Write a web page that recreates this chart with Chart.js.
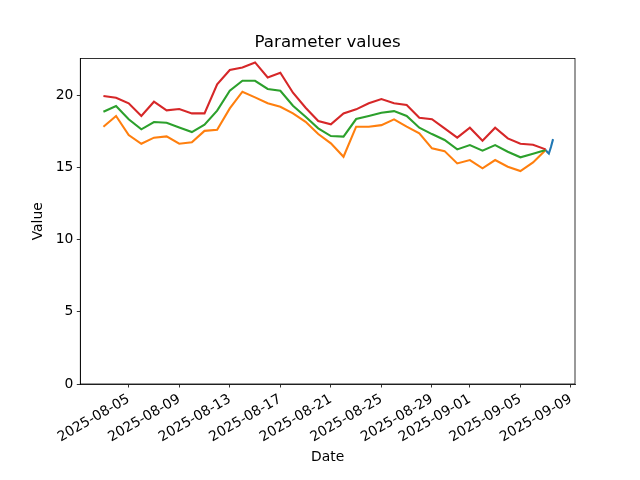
<!DOCTYPE html>
<html>
<head>
<meta charset="utf-8">
<style>
  body { margin: 0; background: #fff; }
  canvas { display: block; }
</style>
</head>
<body>
<canvas id="myChart" width="640" height="480"></canvas>

<script src="https://cdn.jsdelivr.net/npm/chart.js"></script>

<script>
  // daily values, 2025-08-03 .. 2025-09-07
  const dates = [
    '2025-08-03', '2025-08-04', '2025-08-05', '2025-08-06', '2025-08-07', '2025-08-08',
    '2025-08-09', '2025-08-10', '2025-08-11', '2025-08-12', '2025-08-13', '2025-08-14',
    '2025-08-15', '2025-08-16', '2025-08-17', '2025-08-18', '2025-08-19', '2025-08-20',
    '2025-08-21', '2025-08-22', '2025-08-23', '2025-08-24', '2025-08-25', '2025-08-26',
    '2025-08-27', '2025-08-28', '2025-08-29', '2025-08-30', '2025-08-31', '2025-09-01',
    '2025-09-02', '2025-09-03', '2025-09-04', '2025-09-05', '2025-09-06', '2025-09-07'
  ];
  const orangeVals = [
    17.81, 18.55, 17.23, 16.63, 17.05, 17.14, 16.63, 16.73, 17.52, 17.60, 19.08, 20.23,
    19.84, 19.43, 19.19, 18.73, 18.15, 17.30, 16.66, 15.73, 17.81, 17.81, 17.92, 18.32,
    17.81, 17.35, 16.31, 16.12, 15.27, 15.50, 14.93, 15.50, 15.04, 14.74, 15.34, 16.19
  ];
  const greenVals = [
    18.84, 19.24, 18.32, 17.63, 18.13, 18.08, 17.76, 17.44, 17.95, 18.92, 20.30, 20.99,
    20.99, 20.42, 20.30, 19.26, 18.50, 17.70, 17.16, 17.12, 18.34, 18.55, 18.78, 18.89,
    18.55, 17.74, 17.30, 16.89, 16.24, 16.54, 16.15, 16.54, 16.08, 15.69, 15.94, 16.19
  ];
  const redVals = [
    19.93, 19.81, 19.43, 18.55, 19.54, 18.94, 19.03, 18.73, 18.73, 20.74, 21.73, 21.91,
    22.26, 21.22, 21.55, 20.16, 19.12, 18.20, 17.97, 18.73, 19.01, 19.43, 19.72, 19.43,
    19.31, 18.43, 18.33, 17.69, 17.05, 17.74, 16.84, 17.74, 17.00, 16.63, 16.56, 16.24
  ];
  // short blue piece at the very end
  const blueTimes = ['2025-09-07T00:00', '2025-09-07T03:00', '2025-09-07T06:00', '2025-09-07T10:00', '2025-09-07T14:00'];
  const blueVals = [16.20, 16.05, 15.95, 16.40, 16.95];

  const tickDates = ['2025-08-05', '2025-08-09', '2025-08-13', '2025-08-17', '2025-08-21',
                     '2025-08-25', '2025-08-29', '2025-09-01', '2025-09-05', '2025-09-09'];
  const yTicks = [0, 5, 10, 15, 20];

  // day number, 2025-08-01 = 1
  function dayNum(s) {
    const t = s.length === 10 ? s + 'T00:00Z' : s + 'Z';
    return (Date.parse(t) - Date.parse('2025-08-01T00:00Z')) / 86400000 + 1;
  }
  function pts(xs, ys) {
    return xs.map((d, i) => ({ x: dayNum(d), y: ys[i] }));
  }

  const FONT = 'DejaVu Sans';
  const tickFont = { family: FONT, size: 13.89, lineHeight: 1.2 };

  // box around the plot area like matplotlib spines
  const frame = {
    id: 'frame',
    afterDraw(chart) {
      const a = chart.chartArea, c = chart.ctx;
      c.save();
      c.strokeStyle = '#000';
      c.lineWidth = 0.8;
      c.strokeRect(a.left, a.top, a.right - a.left, a.bottom - a.top);
      c.restore();
    }
  };

  const line = (label, data, color, order) => ({
    label: label, data: data, borderColor: color, backgroundColor: color,
    borderWidth: 2.1, pointRadius: 0, tension: 0, fill: false, order: order
  });

  const ctx = document.getElementById('myChart');

  chart = new Chart(ctx, {
    type: 'line',
    data: {
      datasets: [
        line('blue', pts(blueTimes, blueVals), '#1f77b4', 4),
        line('orange', pts(dates, orangeVals), '#ff7f0e', 3),
        line('green', pts(dates, greenVals), '#2ca02c', 2),
        line('red', pts(dates, redVals), '#d62728', 1)
      ]
    },
    options: {
      responsive: false,
      animation: false,
      // left padding + empty right axis so the title centres over the plot
      layout: { padding: { top: 10, right: 0, bottom: 0, left: 15.2 } },
      plugins: {
        legend: { display: false },
        tooltip: { enabled: false },
        title: {
          display: true,
          text: 'Parameter values',
          color: '#000',
          font: { family: FONT, size: 16.67, weight: 'normal', lineHeight: 1.2 },
          padding: { top: 23, bottom: 5.5 }
        }
      },
      scales: {
        x: {
          type: 'linear',
          min: 1.17,
          max: 40.32,
          afterBuildTicks: s => { s.ticks = tickDates.map(d => ({ value: dayNum(d) })); },
          afterFit: s => { s.height = 96; },
          ticks: {
            callback: (v, i) => tickDates[i],
            autoSkip: false,
            minRotation: 30,
            maxRotation: 30,
            color: '#000',
            font: tickFont,
            padding: 3.5
          },
          grid: { drawOnChartArea: false, drawTicks: true, tickLength: 3.5, tickColor: '#000', tickWidth: 0.8 },
          border: { display: true, color: '#000', width: 0.8 },
          title: { display: true, text: 'Date', color: '#000', font: tickFont, padding: { top: 0, bottom: 14.7 } }
        },
        y: {
          min: 0,
          max: 22.53,
          afterBuildTicks: s => { s.ticks = yTicks.map(v => ({ value: v })); },
          afterFit: s => { s.width = 65.1; },
          ticks: { color: '#000', font: tickFont, padding: 3.5 },
          grid: { drawOnChartArea: false, drawTicks: true, tickLength: 3.5, tickColor: '#000', tickWidth: 0.8 },
          border: { display: true, color: '#000', width: 0.8 },
          title: { display: true, text: 'Value', color: '#000', font: tickFont, padding: { top: 14.5, bottom: 0 } }
        },
        yRight: {
          position: 'right',
          min: 0,
          max: 22.53,
          afterFit: s => { s.width = 65; },
          ticks: { display: false },
          grid: { display: false },
          border: { display: false }
        }
      }
    },
    plugins: [frame]
  });
</script>
</body>
</html>
